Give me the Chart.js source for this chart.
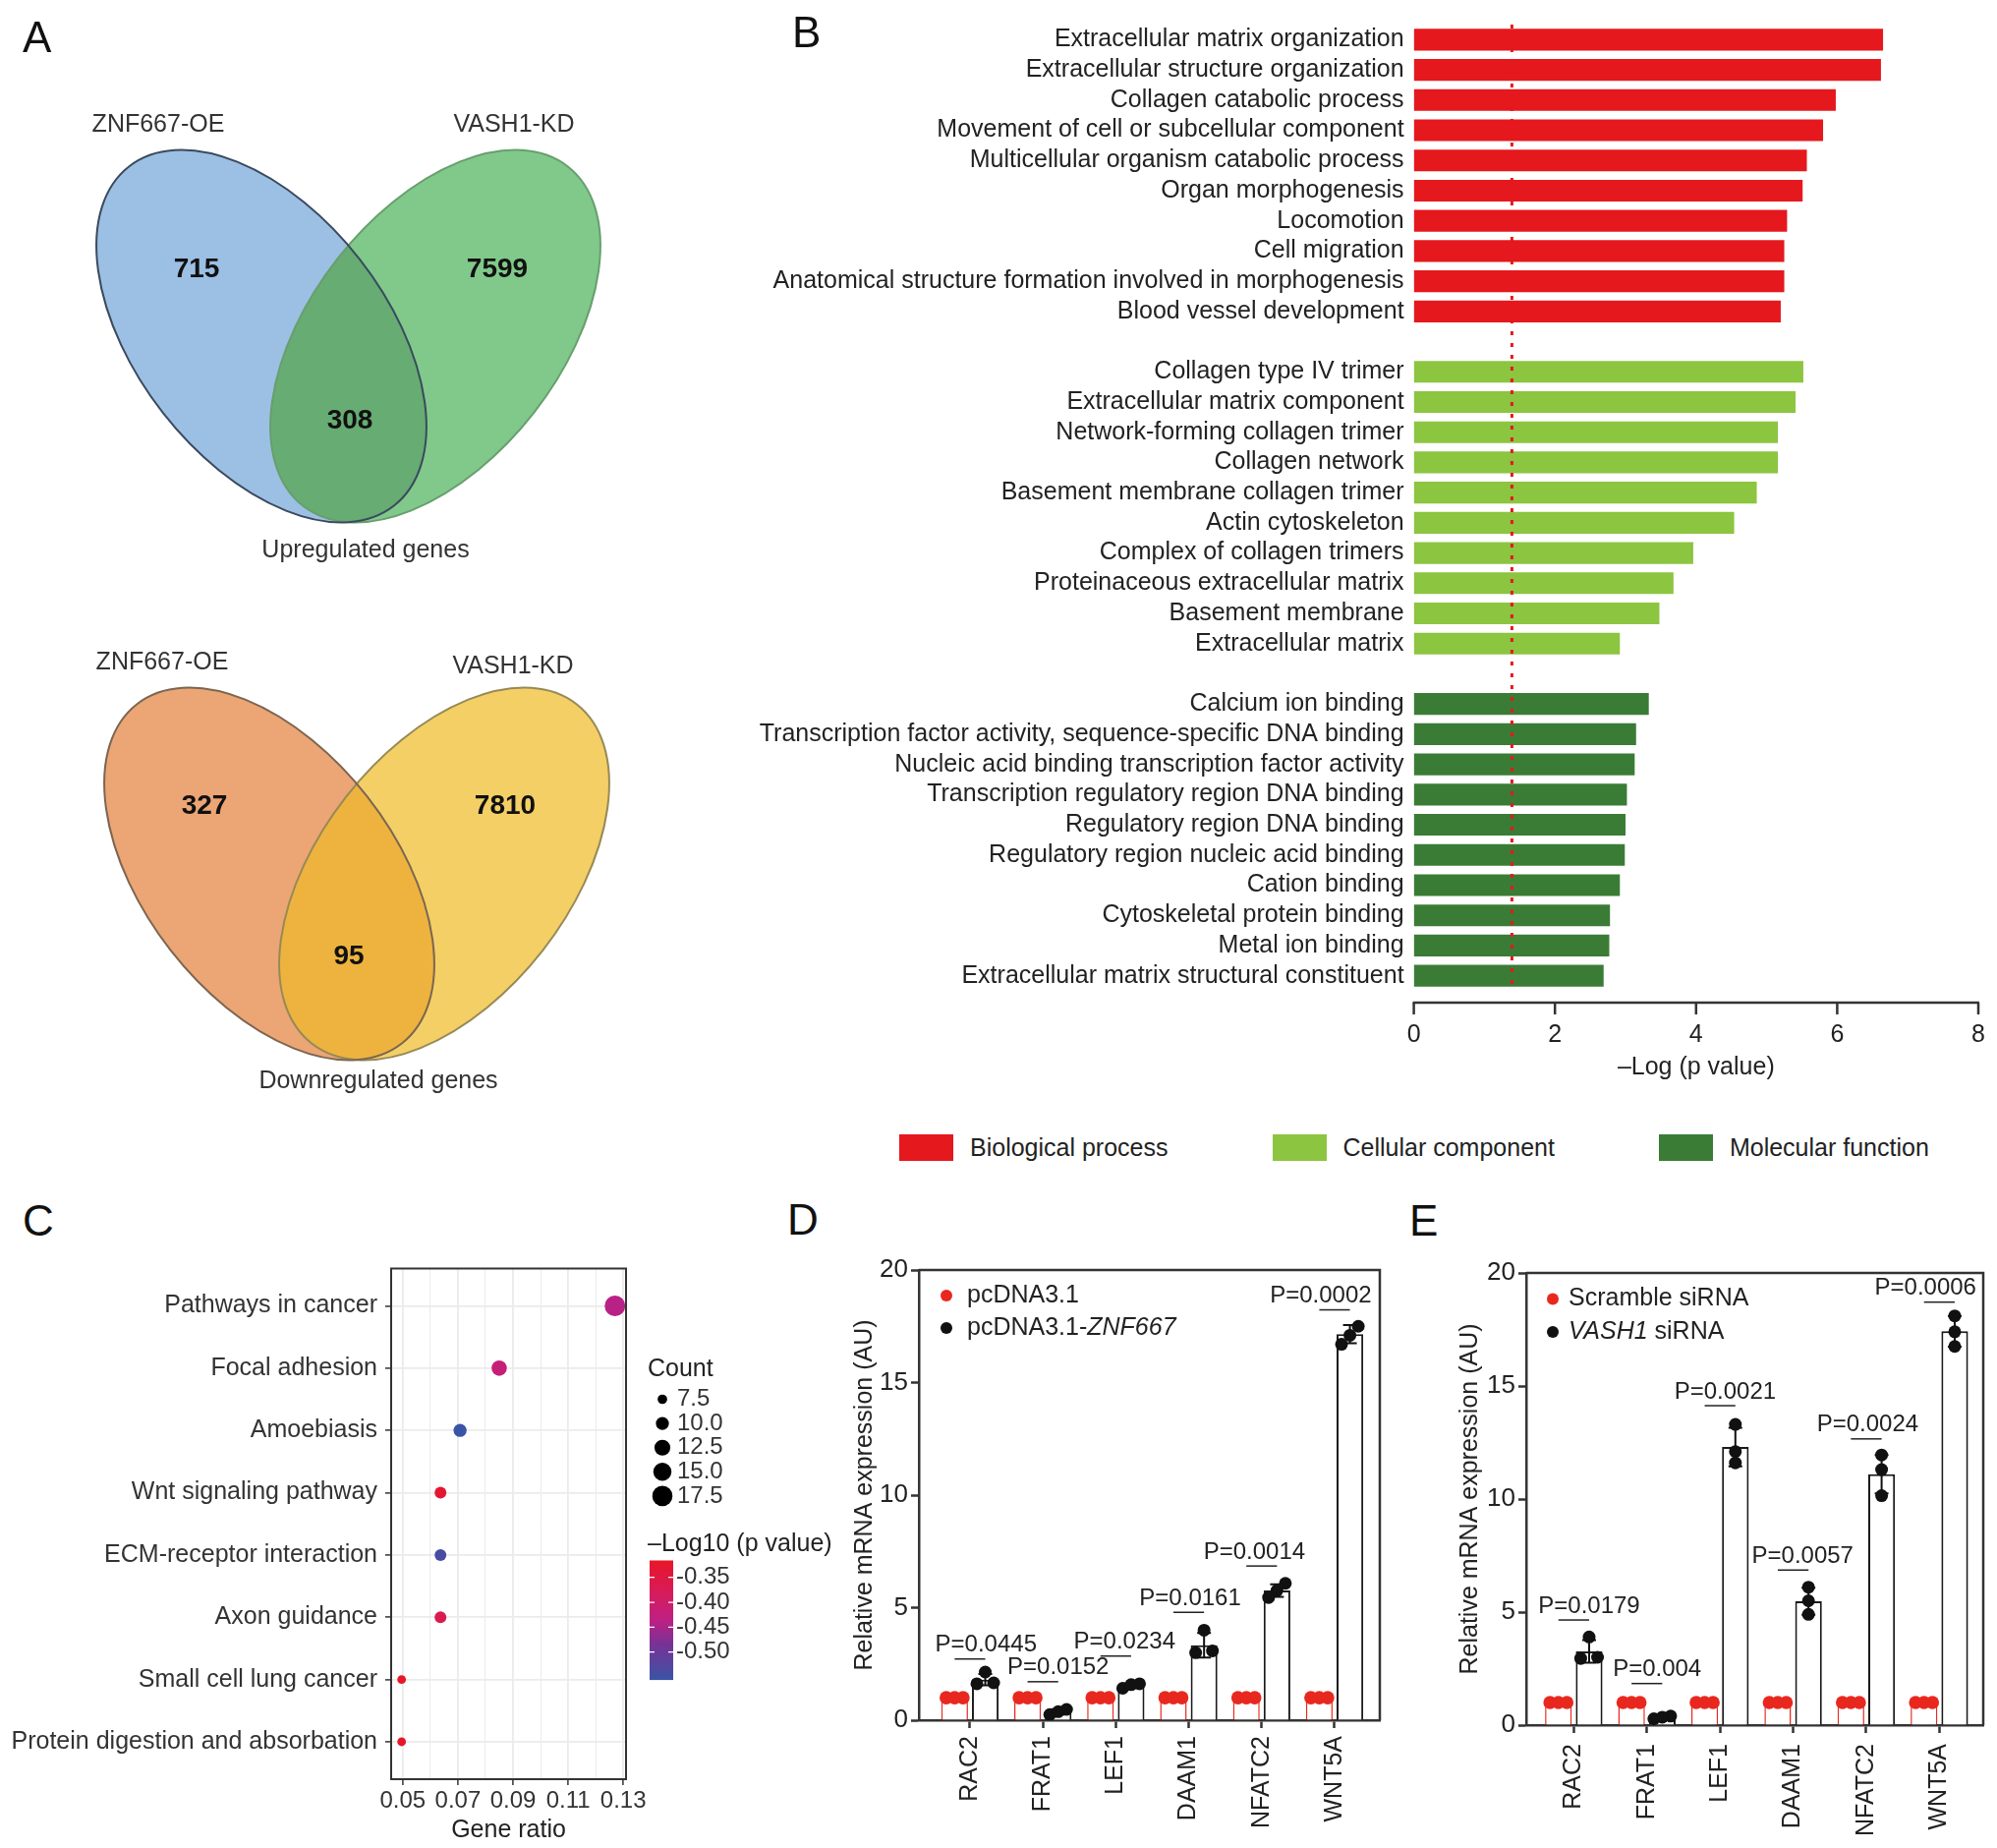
<!DOCTYPE html>
<html>
<head>
<meta charset="utf-8">
<title>ZNF667 / VASH1 enrichment</title>
<script src="https://cdn.jsdelivr.net/npm/chart.js@4.4.1/dist/chart.umd.min.js"></script>
<style>
  html, body { margin: 0; padding: 0; background: #fff; }
  #page { position: relative; width: 2032px; height: 1880px; overflow: hidden;
          font-family: "Liberation Sans", Arial, Helvetica, sans-serif; color: #222; }
  canvas { position: absolute; }
  .tag { position: absolute; font-size: 44px; line-height: 44px; color: #111; }
  #legendB { position: absolute; left: 915px; top: 1153px; display: flex; align-items: center;
             font-size: 25px; white-space: nowrap; }
  #legendB .item { display: flex; align-items: center; margin-right: 106px; flex: none; }
  #legendB .box { display: inline-block; width: 55px; height: 27px; margin-right: 17px; }
</style>
</head>
<body>
<div id="page">
  <canvas id="venn" width="760" height="1140" style="left:0;top:0"></canvas>
  <canvas id="goChart" width="1272" height="1110" style="left:760px;top:0"></canvas>
  <div id="legendB"></div>
  <canvas id="keggChart" width="860" height="600" style="left:0;top:1280px"></canvas>
  <canvas id="chartD" width="580" height="600" style="left:840px;top:1280px"></canvas>
  <canvas id="chartE" width="572" height="600" style="left:1460px;top:1280px"></canvas>
  <div class="tag" style="left:23px;top:16px">A</div>
  <div class="tag" style="left:806px;top:11px">B</div>
  <div class="tag" style="left:23px;top:1220px">C</div>
  <div class="tag" style="left:801px;top:1219px">D</div>
  <div class="tag" style="left:1434px;top:1220px">E</div>
</div>
<script>
// ============================
// DATA
// ============================

// A - venn diagrams (only OE, only KD, both)
const vennSets = ['ZNF667-OE', 'VASH1-KD'];
const upCounts = [715, 7599, 308];
const downCounts = [327, 7810, 95];
const vennTitles = ['Upregulated genes', 'Downregulated genes'];

// B - GO enrichment, -log(p)
const goClasses = ['Biological process', 'Cellular component', 'Molecular function'];
const bpTerms = ['Extracellular matrix organization', 'Extracellular structure organization',
  'Collagen catabolic process', 'Movement of cell or subcellular component',
  'Multicellular organism catabolic process', 'Organ morphogenesis', 'Locomotion',
  'Cell migration', 'Anatomical structure formation involved in morphogenesis',
  'Blood vessel development'];
const bpValues = [6.65, 6.62, 5.98, 5.80, 5.57, 5.51, 5.29, 5.25, 5.25, 5.20];
const ccTerms = ['Collagen type IV trimer', 'Extracellular matrix component',
  'Network-forming collagen trimer', 'Collagen network', 'Basement membrane collagen trimer',
  'Actin cytoskeleton', 'Complex of collagen trimers', 'Proteinaceous extracellular matrix',
  'Basement membrane', 'Extracellular matrix'];
const ccValues = [5.52, 5.41, 5.16, 5.16, 4.86, 4.54, 3.96, 3.68, 3.48, 2.92];
const mfTerms = ['Calcium ion binding', 'Transcription factor activity, sequence-specific DNA binding',
  'Nucleic acid binding transcription factor activity', 'Transcription regulatory region DNA binding',
  'Regulatory region DNA binding', 'Regulatory region nucleic acid binding', 'Cation binding',
  'Cytoskeletal protein binding', 'Metal ion binding', 'Extracellular matrix structural constituent'];
const mfValues = [3.33, 3.15, 3.13, 3.02, 3.00, 2.99, 2.92, 2.78, 2.77, 2.69];
const logPTicks = [0, 2, 4, 6, 8];
const pThreshold = 1.39;

// C - KEGG dot plot
const pathways = ['Pathways in cancer', 'Focal adhesion', 'Amoebiasis', 'Wnt signaling pathway',
  'ECM-receptor interaction', 'Axon guidance', 'Small cell lung cancer',
  'Protein digestion and absorbation'];
const geneRatio = [0.127, 0.085, 0.0708, 0.0637, 0.0637, 0.0637, 0.0496, 0.0496];
const geneCount = [18, 12, 10, 9, 9, 9, 7, 7];
const negLog10P = [-0.44, -0.42, -0.556, -0.33, -0.54, -0.37, -0.316, -0.316];
const ratioTicks = [0.05, 0.07, 0.09, 0.11, 0.13];
const ratioMinorTicks = [0.06, 0.08, 0.10, 0.12];
const countBreaks = [7.5, 10.0, 12.5, 15.0, 17.5];
const pBreaks = [-0.35, -0.40, -0.45, -0.50];

// D / E - qPCR
const genes = ['RAC2', 'FRAT1', 'LEF1', 'DAAM1', 'NFATC2', 'WNT5A'];
const exprTicks = [0, 5, 10, 15, 20];

const dLegend = ['pcDNA3.1', 'pcDNA3.1-ZNF667'];
const dItalic = ['', 'ZNF667'];
const dCtrlMean = [1, 1, 1, 1, 1, 1];
const dCtrlReps = [[1, 1, 1], [1, 1, 1], [1, 1, 1], [1, 1, 1], [1, 1, 1], [1, 1, 1]];
const dMean = [1.80, 0.37, 1.53, 3.33, 5.76, 17.15];
const dSD = [0.25, 0.12, 0.10, 0.55, 0.28, 0.40];
const dReps = [[2.14, 1.62, 1.66], [0.25, 0.48, 0.38], [1.42, 1.58, 1.62],
  [4.0, 3.0, 3.08], [6.08, 5.45, 5.76], [17.5, 16.7, 17.1]];
const dPText = ['P=0.0445', 'P=0.0152', 'P=0.0234', 'P=0.0161', 'P=0.0014', 'P=0.0002'];
const dPLine = [2.72, 1.71, 2.85, 4.79, 6.85, 18.23];

const eLegend = ['Scramble siRNA', 'VASH1 siRNA'];
const eItalic = ['', 'VASH1'];
const eCtrlMean = [1, 1, 1, 1, 1, 1];
const eCtrlReps = [[1, 1, 1], [1, 1, 1], [1, 1, 1], [1, 1, 1], [1, 1, 1], [1, 1, 1]];
const eMean = [3.26, 0.35, 12.3, 5.48, 11.1, 17.42];
const eSD = [0.50, 0.07, 0.85, 0.60, 0.85, 0.68];
const eReps = [[3.9, 2.95, 3.0], [0.28, 0.40, 0.35], [13.3, 12.1, 11.6],
  [6.1, 4.9, 5.5], [11.95, 11.3, 10.15], [18.1, 17.4, 16.75]];
const ePText = ['P=0.0179', 'P=0.004', 'P=0.0021', 'P=0.0057', 'P=0.0024', 'P=0.0006'];
const ePLine = [4.65, 1.84, 14.13, 6.86, 12.66, 18.71];

// ============================
// STYLE / LAYOUT
// ============================
const FONT = '"Liberation Sans", Arial, Helvetica, sans-serif';
const RED = '#e8281f';
const AXIS = '#333';
const goColors = ['#e5181e', '#8cc540', '#3a7c35'];

Chart.defaults.font.family = FONT;
Chart.defaults.color = '#222';
Chart.defaults.animation = false;
Chart.defaults.responsive = false;
Chart.defaults.plugins.legend.display = false;
Chart.defaults.plugins.tooltip.enabled = false;

// venn geometry, in page pixels (the venn chart scales are 1:1 with the canvas)
const VENN_A = 219, VENN_B = 127, VENN_TILT = 38 * Math.PI / 180;
const vennLayout = [
  { cx: [266, 443], cy: 342, setX: [161, 523], setY: [127, 127],
    countXY: [[200, 274], [506, 274], [356, 428]], titleXY: [372, 560],
    fill: ['#9cbfe4', '#80c98a', '#66ac73'], stroke: ['#3a4a5e', '#679f6e'] },
  { cx: [274, 452], cy: 889, setX: [165, 522], setY: [674, 678],
    countXY: [[208, 820], [514, 820], [355, 973]], titleXY: [385, 1100],
    fill: ['#eca574', '#f4cf66', '#eeb33f'], stroke: ['#7b6651', '#978a55'] }
];
const vennCounts = [upCounts, downCounts];

// ============================
// A - VENN
// ============================
const vennPlugin = {
  id: 'venn',
  afterDraw(chart) {
    const { ctx, scales: { x, y } } = chart;
    const px = v => x.getPixelForValue(v);
    const py = v => y.getPixelForValue(v);
    vennLayout.forEach((L, k) => {
      const ell = j => {
        ctx.beginPath();
        ctx.ellipse(px(L.cx[j]), py(L.cy), VENN_B, VENN_A, (j ? 1 : -1) * VENN_TILT, 0, Math.PI * 2);
      };
      ctx.save();
      ell(0); ctx.fillStyle = L.fill[0]; ctx.fill();
      ell(1); ctx.fillStyle = L.fill[1]; ctx.fill();
      ctx.save(); ell(0); ctx.clip(); ell(1); ctx.fillStyle = L.fill[2]; ctx.fill(); ctx.restore();
      ctx.lineWidth = 2;
      ell(1); ctx.strokeStyle = L.stroke[1]; ctx.stroke();
      ell(0); ctx.strokeStyle = L.stroke[0]; ctx.stroke();

      ctx.textAlign = 'center';
      ctx.textBaseline = 'middle';
      ctx.fillStyle = '#333';
      ctx.font = `25px ${FONT}`;
      vennSets.forEach((name, j) => ctx.fillText(name, px(L.setX[j]), py(L.setY[j])));
      ctx.fillText(vennTitles[k], px(L.titleXY[0]), py(L.titleXY[1]));
      ctx.fillStyle = '#111';
      ctx.font = `bold 28px ${FONT}`;
      vennCounts[k].forEach((c, j) => ctx.fillText(String(c), px(L.countXY[j][0]), py(L.countXY[j][1])));
      ctx.restore();
    });
  }
};

new Chart(document.getElementById('venn'), {
  type: 'scatter',
  data: { datasets: [] },
  options: {
    layout: { padding: 0 },
    scales: {
      x: { type: 'linear', min: 0, max: 760, display: false },
      y: { type: 'linear', min: 0, max: 1140, reverse: true, display: false }
    }
  },
  plugins: [vennPlugin]
});

// ============================
// B - GO BARS
// ============================
const goGroups = [[bpTerms, bpValues], [ccTerms, ccValues], [mfTerms, mfValues]];
const goLabels = [...bpTerms, '', ...ccTerms, '', ...mfTerms];

const goAxisPlugin = {
  id: 'goAxis',
  afterDatasetsDraw(chart) {
    const { ctx, chartArea: a, scales: { x } } = chart;
    ctx.save();
    // dotted significance line
    const tx = x.getPixelForValue(pThreshold);
    ctx.strokeStyle = goColors[0];
    ctx.lineWidth = 3;
    ctx.setLineDash([4, 8]);
    ctx.beginPath(); ctx.moveTo(tx, a.top); ctx.lineTo(tx, a.bottom); ctx.stroke();
    ctx.setLineDash([]);
    // axis line sits a bit under the last bar
    const ay = a.bottom + 12;
    ctx.strokeStyle = AXIS;
    ctx.lineWidth = 2.5;
    ctx.beginPath();
    ctx.moveTo(x.getPixelForValue(x.min) - 1, ay);
    ctx.lineTo(x.getPixelForValue(x.max) + 1, ay);
    ctx.stroke();
    logPTicks.forEach(v => {
      const p = x.getPixelForValue(v);
      ctx.beginPath(); ctx.moveTo(p, ay); ctx.lineTo(p, ay + 12); ctx.stroke();
    });
    ctx.restore();
  }
};

new Chart(document.getElementById('goChart'), {
  type: 'bar',
  data: {
    labels: goLabels,
    datasets: goGroups.map(([terms, vals], k) => ({
      label: goClasses[k],
      data: terms.map((t, i) => ({ y: t, x: vals[i] })),
      backgroundColor: goColors[k],
      barPercentage: 0.72,
      categoryPercentage: 1,
      grouped: false
    }))
  },
  options: {
    indexAxis: 'y',
    layout: { padding: { top: 25, right: 19, left: 0, bottom: 0 } },
    scales: {
      x: {
        min: 0, max: 8,
        afterBuildTicks: s => { s.ticks = logPTicks.map(v => ({ value: v })); },
        grid: { display: false, drawTicks: false },
        border: { display: false },
        ticks: { padding: 30, font: { size: 25 }, color: '#222', maxRotation: 0 },
        title: { display: true, text: '–Log (p value)', font: { size: 25 }, color: '#222',
                 padding: { top: 0, bottom: 9 } },
        afterFit: s => { s.height = 102; s.paddingLeft = 0; s.paddingRight = 0; }
      },
      y: {
        grid: { display: false, drawTicks: false },
        border: { display: false },
        ticks: { padding: 10, autoSkip: false, font: { size: 25 }, color: '#222' },
        afterFit: s => { s.width = 678.6; s.paddingTop = 0; s.paddingBottom = 0; }
      }
    }
  },
  plugins: [goAxisPlugin]
});

const legendB = document.getElementById('legendB');
goClasses.forEach((name, k) => {
  legendB.insertAdjacentHTML('beforeend',
    `<div class="item"><span class="box" style="background:${goColors[k]}"></span><span>${name}</span></div>`);
});

// ============================
// C - KEGG DOTS
// ============================
const pMin = Math.min(...negLog10P), pMax = Math.max(...negLog10P);
const cMin = Math.min(...geneCount), cMax = Math.max(...geneCount);
const pStops = [[0, [58, 84, 166]], [0.3, [120, 50, 150]], [0.5, [190, 32, 132]],
                [0.72, [214, 28, 92]], [1, [232, 22, 40]]];

function colorAt(t) {
  t = Math.max(0, Math.min(1, t));
  for (let i = 1; i < pStops.length; i++) {
    const [t1, c1] = pStops[i];
    const [t0, c0] = pStops[i - 1];
    if (t <= t1) {
      const f = (t - t0) / (t1 - t0);
      const c = c0.map((v, j) => Math.round(v + (c1[j] - v) * f));
      return `rgb(${c[0]},${c[1]},${c[2]})`;
    }
  }
  return 'rgb(232,22,40)';
}
const colorFor = v => colorAt((v - pMin) / (pMax - pMin));
// area scales with count, like ggplot's scale_size
const sizeFor = c => Math.sqrt(19.4 + (c - cMin) / (cMax - cMin) * (110 - 19.4));

const keggPlugin = {
  id: 'keggExtras',
  afterDraw(chart) {
    const { ctx, chartArea: a } = chart;
    ctx.save();
    ctx.strokeStyle = AXIS;
    ctx.lineWidth = 2;
    ctx.strokeRect(a.left, a.top, a.right - a.left, a.bottom - a.top);

    // size legend
    const lx = a.right + 22;
    ctx.fillStyle = '#222';
    ctx.textAlign = 'left';
    ctx.textBaseline = 'middle';
    ctx.font = `25px ${FONT}`;
    ctx.fillText('Count', lx, a.top + 103);
    ctx.font = `24px ${FONT}`;
    countBreaks.forEach((c, i) => {
      const yy = a.top + 133 + i * 24.6;
      ctx.fillStyle = '#000';
      ctx.beginPath(); ctx.arc(a.right + 37, yy, sizeFor(c), 0, Math.PI * 2); ctx.fill();
      ctx.fillStyle = '#333';
      ctx.fillText(c.toFixed(1), a.right + 52, yy);
    });

    // colour bar
    const bx = a.right + 24, bw = 24, by = a.top + 297, bh = 121.6;
    ctx.fillStyle = '#222';
    ctx.font = `25px ${FONT}`;
    ctx.fillText('–Log10 (p value)', lx, a.top + 281);
    const g = ctx.createLinearGradient(0, by + bh, 0, by);
    pStops.forEach(([t]) => g.addColorStop(t, colorAt(t)));
    ctx.fillStyle = g;
    ctx.fillRect(bx, by, bw, bh);
    ctx.font = `24px ${FONT}`;
    ctx.strokeStyle = '#fff';
    ctx.lineWidth = 1.2;
    pBreaks.forEach(v => {
      const yy = by + (pMax - v) / (pMax - pMin) * bh;
      ctx.beginPath();
      ctx.moveTo(bx, yy); ctx.lineTo(bx + 5, yy);
      ctx.moveTo(bx + bw - 5, yy); ctx.lineTo(bx + bw, yy);
      ctx.stroke();
      ctx.fillStyle = '#333';
      ctx.fillText(v.toFixed(2), bx + bw + 3, yy);
    });
    ctx.restore();
  }
};

new Chart(document.getElementById('keggChart'), {
  type: 'scatter',
  data: {
    datasets: [{
      data: pathways.map((p, i) => ({ x: geneRatio[i], y: i })),
      pointRadius: c => sizeFor(geneCount[c.dataIndex]),
      pointHoverRadius: c => sizeFor(geneCount[c.dataIndex]),
      pointBackgroundColor: c => colorFor(negLog10P[c.dataIndex]),
      pointBorderWidth: 0,
      pointBorderColor: 'rgba(0,0,0,0)'
    }]
  },
  options: {
    layout: { padding: { top: 10, right: 223, left: 0, bottom: 0 } },
    scales: {
      x: {
        type: 'linear', min: 0.0458, max: 0.131,
        afterBuildTicks: s => {
          s.ticks = [...ratioTicks.map(v => ({ value: v, main: true })),
                     ...ratioMinorTicks.map(v => ({ value: v }))].sort((p, q) => p.value - q.value);
        },
        ticks: {
          autoSkip: false, maxRotation: 0, padding: 2, font: { size: 24 }, color: '#333',
          callback: (v, i, ticks) => (ticks[i].main ? v.toFixed(2) : '')
        },
        grid: {
          color: '#ebebeb',
          lineWidth: c => (c.tick && c.tick.main ? 1.8 : 1),
          tickColor: c => (c.tick && c.tick.main ? AXIS : 'rgba(0,0,0,0)'),
          tickLength: 6, tickWidth: 1.5
        },
        border: { display: false },
        title: { display: true, text: 'Gene ratio', font: { size: 25 }, color: '#222',
                 padding: { top: 0, bottom: 3 } },
        afterFit: s => { s.height = 70; s.paddingLeft = 0; s.paddingRight = 0; }
      },
      y: {
        type: 'linear', reverse: true, min: -0.6, max: pathways.length - 0.4,
        afterBuildTicks: s => { s.ticks = pathways.map((_, i) => ({ value: i })); },
        ticks: { autoSkip: false, padding: 8, font: { size: 25 }, color: '#333',
                 callback: v => pathways[v] },
        grid: { color: '#ebebeb', lineWidth: 1.8, tickColor: AXIS, tickLength: 6, tickWidth: 1.5 },
        border: { display: false },
        afterFit: s => { s.width = 398; s.paddingTop = 0; s.paddingBottom = 0; }
      }
    }
  },
  plugins: [keggPlugin]
});

// ============================
// D / E - qPCR BARS
// ============================
const CAT_PCT = 0.84, BAR_PCT = 0.87;
const DOT_GAP = 0.45;

// dots that would overlap get pushed sideways, the way Prism spreads them
function spreadOffsets(values) {
  const idx = values.map((v, i) => i).sort((a, b) => values[a] - values[b]);
  const out = values.map(() => 0);
  let group = [idx[0]];
  const flush = () => {
    const n = group.length;
    if (n > 1) {
      const step = n === 2 ? 0.23 : 0.115;
      group.forEach((k, j) => { out[k] = (j - (n - 1) / 2) * step; });
    }
  };
  for (let j = 1; j < idx.length; j++) {
    if (values[idx[j]] - values[idx[j - 1]] < DOT_GAP) group.push(idx[j]);
    else { flush(); group = [idx[j]]; }
  }
  flush();
  return out;
}

function dotData(reps, side) {
  const out = [];
  reps.forEach((vals, i) => {
    const off = spreadOffsets(vals);
    vals.forEach((v, k) => out.push({ x: i + side * CAT_PCT / 4 + off[k], y: v }));
  });
  return out;
}

function expressionChart(id, p) {
  const L = p.layout;

  const extras = {
    id: 'exprExtras',
    afterDatasetDraw(chart, args) {
      if (args.index !== 1) return;
      // error bars on the treatment bars
      const { ctx, scales: { y } } = chart;
      const bars = chart.getDatasetMeta(1).data;
      ctx.save();
      ctx.strokeStyle = '#111';
      ctx.lineWidth = 2;
      p.mean.forEach((m, i) => {
        const bx = bars[i].x;
        const y0 = y.getPixelForValue(m - p.sd[i]);
        const y1 = y.getPixelForValue(m + p.sd[i]);
        ctx.beginPath();
        ctx.moveTo(bx, y0); ctx.lineTo(bx, y1);
        ctx.moveTo(bx - 7, y1); ctx.lineTo(bx + 7, y1);
        ctx.moveTo(bx - 7, y0); ctx.lineTo(bx + 7, y0);
        ctx.stroke();
      });
      ctx.restore();
    },
    afterDraw(chart) {
      const { ctx, chartArea: a, scales: { x, y } } = chart;
      const ctrl = chart.getDatasetMeta(0).data;
      const trt = chart.getDatasetMeta(1).data;
      ctx.save();
      // top and right sides of the frame
      ctx.strokeStyle = AXIS;
      ctx.lineWidth = 2.5;
      ctx.beginPath();
      ctx.moveTo(a.left, a.top); ctx.lineTo(a.right, a.top); ctx.lineTo(a.right, a.bottom);
      ctx.stroke();

      // p values
      ctx.strokeStyle = '#222';
      ctx.lineWidth = 1.5;
      ctx.fillStyle = '#222';
      ctx.font = `24px ${FONT}`;
      ctx.textAlign = 'center';
      ctx.textBaseline = 'middle';
      p.pText.forEach((t, i) => {
        const ly = y.getPixelForValue(p.pLine[i]);
        ctx.beginPath(); ctx.moveTo(ctrl[i].x, ly); ctx.lineTo(trt[i].x, ly); ctx.stroke();
        ctx.fillText(t, x.getPixelForValue(i + L.pShift[i]), ly - 14);
      });

      // legend
      ctx.textAlign = 'left';
      ctx.font = `25px ${FONT}`;
      const colors = [RED, '#111'];
      p.legend.forEach((label, k) => {
        const ly = a.top + L.legendY[k];
        ctx.fillStyle = colors[k];
        ctx.beginPath(); ctx.arc(a.left + L.legendDot, ly, 6, 0, Math.PI * 2); ctx.fill();
        ctx.fillStyle = '#222';
        const it = p.italic[k];
        const parts = it ? label.split(it) : [label];
        let tx = a.left + L.legendText;
        parts.forEach((part, j) => {
          if (j > 0) {
            ctx.font = `italic 25px ${FONT}`;
            ctx.fillText(it, tx, ly);
            tx += ctx.measureText(it).width;
            ctx.font = `25px ${FONT}`;
          }
          ctx.fillText(part, tx, ly);
          tx += ctx.measureText(part).width;
        });
      });
      ctx.restore();
    }
  };

  return new Chart(document.getElementById(id), {
    type: 'bar',
    data: {
      datasets: [
        { type: 'bar', label: p.legend[0], data: genes.map((g, i) => ({ x: i, y: p.ctrlMean[i] })),
          backgroundColor: '#fff', borderColor: RED, borderWidth: 1.5,
          categoryPercentage: CAT_PCT, barPercentage: BAR_PCT, order: 2 },
        { type: 'bar', label: p.legend[1], data: genes.map((g, i) => ({ x: i, y: p.mean[i] })),
          backgroundColor: '#fff', borderColor: '#1a1a1a', borderWidth: 2,
          categoryPercentage: CAT_PCT, barPercentage: BAR_PCT, order: 2 },
        { type: 'scatter', data: dotData(p.ctrlReps, -1), pointRadius: 6.8, pointHoverRadius: 6.8,
          backgroundColor: RED, borderWidth: 0, order: 1 },
        { type: 'scatter', data: dotData(p.reps, 1), pointRadius: 6.5, pointHoverRadius: 6.5,
          backgroundColor: '#111', borderWidth: 0, order: 1 }
      ]
    },
    options: {
      layout: { padding: { top: L.padTop, right: L.padRight, left: 0, bottom: 0 } },
      scales: {
        x: {
          type: 'linear', min: L.xMin, max: L.xMax, offset: false,
          afterBuildTicks: s => { s.ticks = genes.map((g, i) => ({ value: i })); },
          ticks: { autoSkip: false, minRotation: 90, maxRotation: 90, padding: L.labelPad,
                   font: { size: 25 }, color: '#222', callback: v => genes[v] },
          grid: { offset: false, drawOnChartArea: false, tickLength: 8, tickWidth: 2.5, tickColor: AXIS },
          border: { color: AXIS, width: 2.5 },
          afterFit: s => { s.height = L.xHeight; s.paddingLeft = 0; s.paddingRight = 0; }
        },
        y: {
          min: 0, max: 20,
          afterBuildTicks: s => { s.ticks = exprTicks.map(v => ({ value: v })); },
          ticks: { padding: 3, font: { size: 26 }, color: '#222' },
          grid: { drawOnChartArea: false, tickLength: 8, tickWidth: 2.5, tickColor: AXIS },
          border: { color: AXIS, width: 2.5 },
          title: { display: true, text: 'Relative mRNA expression (AU)', font: { size: 25 }, color: '#222',
                   padding: { top: L.titlePad, bottom: 0 } },
          afterFit: s => { s.width = L.yWidth; s.paddingTop = 0; s.paddingBottom = 0; }
        }
      }
    },
    plugins: [extras]
  });
}

expressionChart('chartD', {
  legend: dLegend, italic: dItalic, ctrlMean: dCtrlMean, ctrlReps: dCtrlReps,
  mean: dMean, sd: dSD, reps: dReps, pText: dPText, pLine: dPLine,
  layout: { xMin: -0.70, xMax: 5.62, padTop: 12, padRight: 16, yWidth: 95, xHeight: 130,
            titlePad: 25, labelPad: 8, pShift: [0.22, 0.21, 0.12, 0.02, -0.10, -0.19],
            legendDot: 28, legendText: 49, legendY: [26, 59] }
});

expressionChart('chartE', {
  legend: eLegend, italic: eItalic, ctrlMean: eCtrlMean, ctrlReps: eCtrlReps,
  mean: eMean, sd: eSD, reps: eReps, pText: ePText, pLine: ePLine,
  layout: { xMin: -0.65, xMax: 5.60, padTop: 15, padRight: 14, yWidth: 93, xHeight: 125,
            titlePad: 21.5, labelPad: 11, pShift: [0.21, 0.14, 0.07, 0.13, 0.02, -0.19],
            legendDot: 27, legendText: 43, legendY: [26.5, 60] }
});
</script>
</body>
</html>
